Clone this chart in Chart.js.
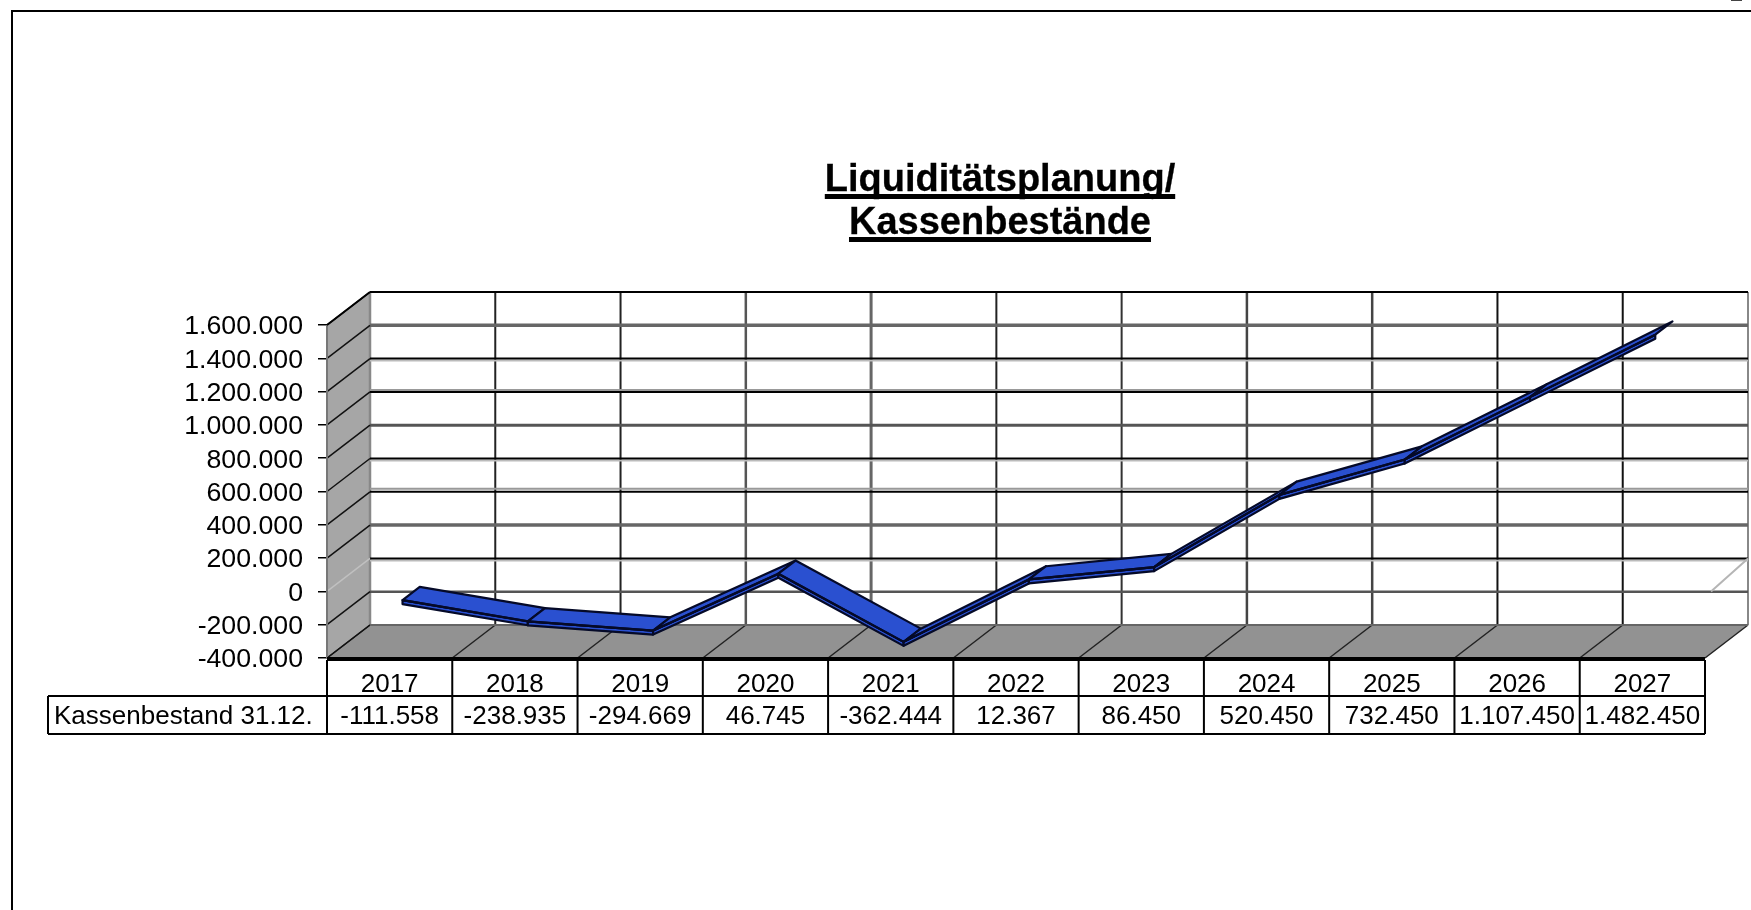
<!DOCTYPE html>
<html><head><meta charset="utf-8">
<style>html,body{margin:0;padding:0;background:#fff;overflow:hidden}canvas{display:block}</style>
<script src="https://cdn.jsdelivr.net/npm/chart.js@4/dist/chart.umd.min.js"></script>
</head><body><canvas id="c" width="1751" height="910"></canvas>
<script>
const categories=['2017','2018','2019','2020','2021','2022','2023','2024','2025','2026','2027'];
const kassenbestand=[-111558,-238935,-294669,46745,-362444,12367,86450,520450,732450,1107450,1482450];
const seriesName='Kassenbestand 31.12.';
const titleLines=['Liquiditätsplanung/','Kassenbestände'];
const FONT='"Liberation Sans", Arial, sans-serif';
const fmt=v=>new Intl.NumberFormat('de-DE').format(v);
const DX=43,DY=33;
// back-wall line looks: [colour, width, shadow offset, shadow colour]
const gridStyle={
 1400000:['#666',3.5,0,''],1200000:['#000',2,2,'#bbb'],1000000:['#000',2,-2,'#999'],
 800000:['#555',3,0,''],600000:['#000',2,2,'#bbb'],400000:['#000',2,-3,'#999'],
 200000:['#666',3.5,0,''],0:['#000',2,2,'#bbb'],'-200000':['#555',2.5,0,'']};
const vStyle=[['#888',2.5],['#222',2],['#222',2],['#555',2.5],['#666',3],['#222',2],['#333',2],['#444',2.5],['#444',2.5],['#111',2],['#111',2],['#888',2]];

const scene={id:'scene',
 beforeDatasetsDraw(ch){
  const {ctx,chartArea:a,scales:{x,y}}=ch;
  const step=x.width/categories.length;
  ctx.save();
  // frame
  ctx.strokeStyle='#000';ctx.lineWidth=2;
  ctx.beginPath();ctx.moveTo(12,910);ctx.lineTo(12,11);ctx.lineTo(1751,11);ctx.stroke();
  ctx.fillStyle='#444';ctx.fillRect(1731,0,11,1);
  // left wall
  ctx.fillStyle='#a6a6a6';
  ctx.beginPath();ctx.moveTo(a.left,a.top);ctx.lineTo(a.left+DX,a.top-DY);ctx.lineTo(a.left+DX,a.bottom-DY);ctx.lineTo(a.left,a.bottom);ctx.closePath();ctx.fill();
  // floor
  ctx.fillStyle='#929292';
  ctx.beginPath();ctx.moveTo(a.left,a.bottom);ctx.lineTo(a.left+DX,a.bottom-DY);ctx.lineTo(a.right+DX,a.bottom-DY);ctx.lineTo(a.right,a.bottom);ctx.closePath();ctx.fill();
  // vertical back lines + floor diagonals
  for(let i=0;i<=categories.length;i++){
    const px=a.left+i*step;
    ctx.strokeStyle=vStyle[i][0];ctx.lineWidth=vStyle[i][1];
    ctx.beginPath();ctx.moveTo(px+DX,a.top-DY);ctx.lineTo(px+DX,a.bottom-DY);ctx.stroke();
    ctx.lineWidth=1.5;ctx.strokeStyle='#222';
    ctx.beginPath();ctx.moveTo(px,a.bottom);ctx.lineTo(px+DX,a.bottom-DY);ctx.stroke();
  }
  // horizontal grid lines on the back wall & wall diagonals
  y.ticks.forEach(t=>{
    const py=y.getPixelForValue(t.value);
    const s=gridStyle[t.value]||['#000',2,0,''];
    if(t.value>-400000){
      if(s[2]){ctx.strokeStyle=s[3];ctx.lineWidth=2;ctx.beginPath();ctx.moveTo(a.left+DX,py-DY+s[2]);ctx.lineTo(a.right+DX,py-DY+s[2]);ctx.stroke();}
      ctx.strokeStyle=s[0];ctx.lineWidth=s[1];
      ctx.beginPath();ctx.moveTo(a.left+DX,py-DY);ctx.lineTo(a.right+DX,py-DY);ctx.stroke();
    }
    ctx.strokeStyle=t.value===0?'#c0c0c0':'#111';ctx.lineWidth=1.5;
    ctx.beginPath();ctx.moveTo(a.left,py);ctx.lineTo(a.left+DX,py-DY);ctx.stroke();
    if(t.value===0){ctx.strokeStyle='#b5b5b5';ctx.lineWidth=2;ctx.beginPath();ctx.moveTo(a.right+6,py);ctx.lineTo(a.right+DX,py-DY);ctx.stroke();}
  });
  // wall & floor edges
  ctx.strokeStyle='#777';ctx.lineWidth=2;
  ctx.beginPath();ctx.moveTo(a.left,a.top);ctx.lineTo(a.left,a.bottom);ctx.stroke();
  ctx.strokeStyle='#666';ctx.lineWidth=2;
  ctx.beginPath();ctx.moveTo(a.left+DX,a.bottom-DY);ctx.lineTo(a.right+DX,a.bottom-DY);ctx.stroke();
  ctx.strokeStyle='#000';ctx.lineWidth=4;
  ctx.beginPath();ctx.moveTo(a.left,a.bottom+1);ctx.lineTo(a.right,a.bottom+1);ctx.stroke();
  ctx.lineWidth=2;
  ctx.beginPath();ctx.moveTo(a.left,a.top);ctx.lineTo(a.left+DX,a.top-DY);ctx.stroke();
  // ribbon
  const pts=ch.getDatasetMeta(0).data;
  const F=0.3,B=0.7,TH=4;
  for(let i=0;i<pts.length-1;i++){
    const p=pts[i],q=pts[i+1];
    const fx=F*DX,fy=F*DY,bx=B*DX,by=B*DY;
    ctx.fillStyle='#2a50d0';ctx.strokeStyle='#050a28';ctx.lineWidth=2.2;ctx.lineJoin='round';
    ctx.beginPath();
    ctx.moveTo(p.x+fx,p.y-fy);ctx.lineTo(q.x+fx,q.y-fy);ctx.lineTo(q.x+fx,q.y-fy+TH);ctx.lineTo(p.x+fx,p.y-fy+TH);ctx.closePath();ctx.fill();ctx.stroke();
    ctx.beginPath();
    ctx.moveTo(p.x+fx,p.y-fy);ctx.lineTo(q.x+fx,q.y-fy);ctx.lineTo(q.x+bx,q.y-by);ctx.lineTo(p.x+bx,p.y-by);ctx.closePath();ctx.fill();ctx.stroke();
  }
  ctx.restore();
 },
 beforeDatasetDraw(ch){ch.ctx.save();ch.ctx.translate(0.3*DX,-0.3*DY);},
 afterDatasetDraw(ch){ch.ctx.restore();},
 afterDraw(ch){
  const {ctx,chartArea:a,scales:{x}}=ch;
  const step=x.width/categories.length;
  ctx.save();
  // title
  const o=ch.options.plugins.title;
  ctx.fillStyle='#000';ctx.strokeStyle='#000';ctx.lineWidth=0.3;ctx.font='bold 38px '+FONT;ctx.textAlign='center';ctx.textBaseline='alphabetic';
  const base=[191,234],cx=1000;
  o.text.forEach((l,i)=>{
    ctx.fillText(l,cx,base[i]);ctx.strokeText(l,cx,base[i]);
    const w=ctx.measureText(l).width;
    ctx.fillRect(cx-w/2,base[i]+3,w,5);
  });
  // data table
  const rowTop=a.bottom+2,rowMid=696,rowBot=734,labLeft=48;
  ctx.strokeStyle='#000';ctx.lineWidth=2;
  ctx.beginPath();
  for(let i=0;i<=categories.length;i++){ctx.moveTo(a.left+i*step,rowTop);ctx.lineTo(a.left+i*step,rowBot);}
  ctx.moveTo(labLeft,rowMid);ctx.lineTo(a.right,rowMid);
  ctx.moveTo(labLeft,rowBot);ctx.lineTo(a.right,rowBot);
  ctx.moveTo(labLeft,rowMid);ctx.lineTo(labLeft,rowBot);
  ctx.stroke();
  ctx.font='26px '+FONT;ctx.textBaseline='middle';
  ctx.textAlign='left';ctx.fillText(seriesName,54,717);
  ctx.textAlign='center';
  kassenbestand.forEach((v,i)=>ctx.fillText(fmt(v),x.getPixelForValue(i),717));
  ctx.restore();
 }
};

new Chart(document.getElementById('c'),{
 type:'line',
 data:{labels:categories,datasets:[{label:seriesName,data:kassenbestand,borderColor:'#050a28',borderWidth:2.2,pointRadius:0,tension:0,fill:false,clip:false}]},
 plugins:[scene],
 options:{
  responsive:false,animation:false,devicePixelRatio:1,
  layout:{padding:{top:325,right:46,left:0,bottom:0}},
  plugins:{legend:{display:false},tooltip:{enabled:false},title:{display:false,text:titleLines}},
  scales:{
   x:{type:'category',offset:true,
      afterFit(s){s.height=252;},
      grid:{display:false},border:{display:false},
      ticks:{color:'#000',font:{family:FONT,size:26},padding:3,maxRotation:0,autoSkip:false}},
   y:{min:-400000,max:1600000,
      afterFit(s){s.width=327;},
      grid:{drawOnChartArea:false,drawTicks:true,tickLength:9,color:'#000',lineWidth:1.5},border:{display:false},
      ticks:{stepSize:200000,autoSkip:false,labelOffset:2,color:'#000',font:{family:FONT,size:26.7},padding:15,callback:v=>fmt(v)}}
  }
 }
});
</script></body></html>
